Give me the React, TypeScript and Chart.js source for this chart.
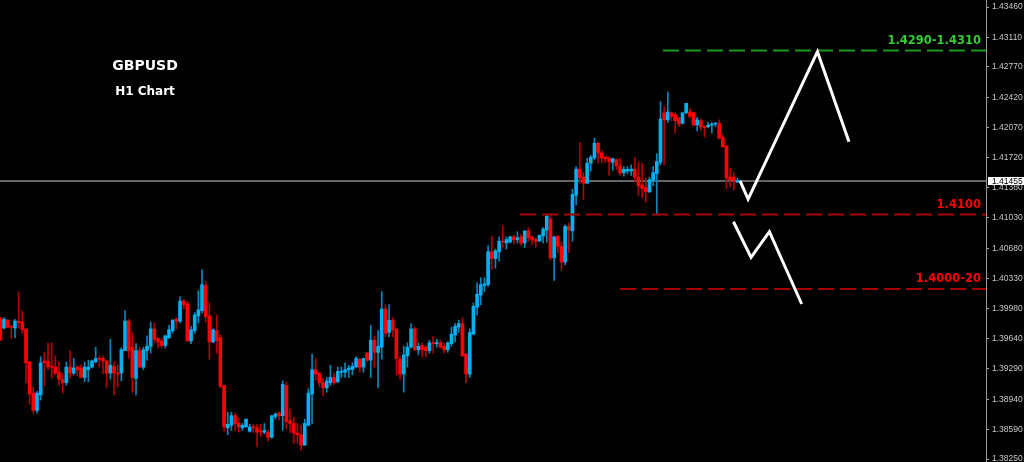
import React, { useEffect, useRef } from "react";
import { Chart, registerables } from "chart.js";

Chart.register(...registerables);

// ---- H1 candles (oldest -> newest) ----
const opens = [1.3988,1.3976,1.3985,1.3978,1.3976,1.3984,1.3983,1.3975,1.3937,1.3901,
1.3881,1.3899,1.3938,1.3938,1.3932,1.3931,1.3925,1.3917,1.3913,1.3931,
1.3924,1.3931,1.3930,1.3919,1.3928,1.3931,1.3937,1.3941,1.3941,1.3938,
1.3924,1.3932,1.3924,1.3924,1.3950,1.3984,1.3954,1.3918,1.3950,1.3931,
1.3950,1.3955,1.3975,1.3964,1.3961,1.3956,1.3965,1.3973,1.3986,1.3984,
1.4007,1.4004,1.3961,1.3973,1.3990,1.3996,1.4025,1.3990,1.3960,1.3973,
1.3965,1.3910,1.3861,1.3864,1.3875,1.3866,1.3861,1.3862,1.3857,1.3862,
1.3861,1.3857,1.3856,1.3856,1.3850,1.3874,1.3878,1.3875,1.3910,1.3869,
1.3866,1.3855,1.3853,1.3841,1.3864,1.3900,1.3928,1.3924,1.3913,1.3907,
1.3913,1.3919,1.3914,1.3925,1.3925,1.3928,1.3928,1.3931,1.3940,1.3931,
1.3947,1.3939,1.3962,1.3948,1.3954,1.3998,1.3971,1.3985,1.3975,1.3940,
1.3923,1.3944,1.3954,1.3975,1.3951,1.3956,1.3954,1.3950,1.3959,1.3958,
1.3959,1.3955,1.3951,1.3958,1.3968,1.3977,1.3981,1.3946,1.3923,1.3969,
1.4000,1.4014,1.4025,1.4026,1.4064,1.4056,1.4064,1.4076,1.4074,1.4075,
1.4081,1.4078,1.4081,1.4074,1.4088,1.4081,1.4078,1.4076,1.4082,1.4089,
1.4102,1.4057,1.4082,1.4070,1.4052,1.4093,1.4088,1.4129,1.4159,1.4150,
1.4143,1.4166,1.4172,1.4189,1.4178,1.4173,1.4172,1.4167,1.4170,1.4163,
1.4155,1.4157,1.4157,1.4159,1.4150,1.4141,1.4138,1.4133,1.4146,1.4154,
1.4167,1.4224,1.4216,1.4224,1.4222,1.4218,1.4212,1.4224,1.4225,1.4224,
1.4210,1.4215,1.4208,1.4208,1.4210,1.4211,1.4212,1.4196,1.4186,1.4150,
1.4150,1.4144];

const highs = [1.3988,1.3988,1.3986,1.3979,1.3986,1.4018,1.3996,1.3975,1.3937,1.3908,
1.3903,1.3943,1.3948,1.3959,1.3959,1.3944,1.3937,1.3924,1.3937,1.3950,
1.3941,1.3933,1.3934,1.3937,1.3939,1.3939,1.3954,1.3944,1.3944,1.3939,
1.3963,1.3937,1.3934,1.3953,1.3996,1.3986,1.3971,1.3958,1.3954,1.3954,
1.3967,1.3983,1.3982,1.3965,1.3964,1.3968,1.3979,1.3986,1.3988,1.4012,
1.4009,1.4007,1.3978,1.3994,1.4019,1.4043,1.4030,1.4005,1.3975,1.3991,
1.3968,1.3910,1.3879,1.3879,1.3878,1.3872,1.3866,1.3871,1.3865,1.3865,
1.3865,1.3865,1.3866,1.3858,1.3875,1.3878,1.3879,1.3915,1.3914,1.3883,
1.3873,1.3866,1.3864,1.3871,1.3906,1.3946,1.3941,1.3925,1.3918,1.3919,
1.3933,1.3924,1.3931,1.3931,1.3936,1.3933,1.3936,1.3943,1.3941,1.3941,
1.3948,1.3979,1.3967,1.3973,1.4018,1.4003,1.4003,1.3988,1.3975,1.3943,
1.3955,1.3959,1.3981,1.3977,1.3959,1.3959,1.3956,1.3962,1.3966,1.3963,
1.3962,1.3959,1.3960,1.3977,1.3981,1.3985,1.3988,1.3947,1.3975,1.4005,
1.4028,1.4034,1.4034,1.4071,1.4082,1.4067,1.4081,1.4094,1.4081,1.4082,
1.4083,1.4087,1.4084,1.4088,1.4092,1.4082,1.4080,1.4083,1.4092,1.4106,
1.4106,1.4082,1.4082,1.4075,1.4095,1.4097,1.4136,1.4162,1.4190,1.4155,
1.4172,1.4175,1.4195,1.4190,1.4181,1.4174,1.4173,1.4172,1.4171,1.4172,
1.4162,1.4162,1.4164,1.4173,1.4167,1.4166,1.4149,1.4150,1.4162,1.4177,
1.4237,1.4231,1.4248,1.4225,1.4224,1.4219,1.4225,1.4235,1.4229,1.4225,
1.4219,1.4217,1.4209,1.4213,1.4213,1.4213,1.4216,1.4199,1.4186,1.4160,
1.4155,1.4149];

const lows = [1.3962,1.3975,1.3976,1.3964,1.3965,1.3976,1.3970,1.3913,1.3888,1.3877,
1.3878,1.3893,1.3909,1.3928,1.3918,1.3922,1.3910,1.3901,1.3910,1.3918,
1.3922,1.3921,1.3919,1.3914,1.3914,1.3930,1.3936,1.3931,1.3923,1.3907,
1.3917,1.3899,1.3908,1.3915,1.3950,1.3941,1.3902,1.3899,1.3931,1.3928,
1.3939,1.3947,1.3959,1.3953,1.3953,1.3953,1.3964,1.3970,1.3975,1.3982,
1.3998,1.3961,1.3958,1.3970,1.3982,1.3993,1.3983,1.3940,1.3959,1.3947,
1.3907,1.3857,1.3853,1.3858,1.3858,1.3856,1.3858,1.3862,1.3856,1.3855,
1.3839,1.3851,1.3854,1.3846,1.3849,1.3871,1.3870,1.3858,1.3860,1.3855,
1.3843,1.3843,1.3835,1.3841,1.3863,1.3866,1.3916,1.3908,1.3898,1.3902,
1.3910,1.3911,1.3913,1.3919,1.3919,1.3919,1.3922,1.3931,1.3925,1.3925,
1.3937,1.3919,1.3931,1.3907,1.3940,1.3966,1.3966,1.3966,1.3922,1.3917,
1.3902,1.3931,1.3953,1.3950,1.3945,1.3943,1.3943,1.3947,1.3947,1.3954,
1.3953,1.3947,1.3948,1.3955,1.3960,1.3971,1.3943,1.3913,1.3919,1.3968,
1.3991,1.4003,1.4018,1.4024,1.4044,1.4045,1.4053,1.4069,1.4067,1.4074,
1.4073,1.4074,1.4071,1.4069,1.4076,1.4072,1.4069,1.4076,1.4074,1.4075,
1.4054,1.4031,1.4063,1.4043,1.4049,1.4063,1.4076,1.4118,1.4143,1.4124,
1.4142,1.4157,1.4170,1.4166,1.4167,1.4167,1.4152,1.4158,1.4159,1.4152,
1.4151,1.4154,1.4152,1.4145,1.4129,1.4126,1.4121,1.4132,1.4140,1.4106,
1.4164,1.4164,1.4213,1.4215,1.4201,1.4208,1.4211,1.4223,1.4218,1.4209,
1.4203,1.4204,1.4196,1.4207,1.4201,1.4208,1.4194,1.4184,1.4137,1.4139,
1.4135,1.4144];

const closes = [1.3962,1.3986,1.3977,1.3977,1.3984,1.3982,1.3974,1.3936,1.3900,1.3881,
1.3901,1.3936,1.3936,1.3931,1.3931,1.3924,1.3917,1.3913,1.3931,1.3924,
1.3930,1.3928,1.3919,1.3931,1.3931,1.3938,1.3941,1.3940,1.3938,1.3924,
1.3933,1.3924,1.3923,1.3951,1.3984,1.3950,1.3919,1.3950,1.3931,1.3951,
1.3955,1.3975,1.3963,1.3960,1.3956,1.3967,1.3974,1.3985,1.3984,1.4007,
1.4003,1.3961,1.3974,1.3991,1.3997,1.4026,1.3989,1.3960,1.3974,1.3961,
1.3909,1.3862,1.3865,1.3875,1.3866,1.3862,1.3864,1.3871,1.3862,1.3861,
1.3856,1.3856,1.3858,1.3850,1.3875,1.3877,1.3875,1.3911,1.3868,1.3866,
1.3855,1.3853,1.3841,1.3866,1.3901,1.3928,1.3923,1.3913,1.3907,1.3915,
1.3919,1.3913,1.3926,1.3926,1.3928,1.3930,1.3932,1.3941,1.3931,1.3941,
1.3939,1.3962,1.3948,1.3955,1.3998,1.3970,1.3985,1.3974,1.3941,1.3923,
1.3945,1.3954,1.3975,1.3951,1.3955,1.3951,1.3950,1.3959,1.3958,1.3959,
1.3954,1.3951,1.3959,1.3969,1.3978,1.3981,1.3944,1.3923,1.3971,1.4001,
1.4015,1.4026,1.4027,1.4064,1.4056,1.4065,1.4076,1.4075,1.4078,1.4081,
1.4078,1.4080,1.4074,1.4088,1.4080,1.4078,1.4076,1.4083,1.4090,1.4105,
1.4057,1.4081,1.4070,1.4052,1.4093,1.4089,1.4130,1.4159,1.4149,1.4143,
1.4166,1.4173,1.4189,1.4178,1.4172,1.4171,1.4168,1.4171,1.4163,1.4155,
1.4159,1.4159,1.4159,1.4150,1.4140,1.4137,1.4133,1.4147,1.4155,1.4168,
1.4217,1.4216,1.4225,1.4220,1.4215,1.4211,1.4224,1.4235,1.4220,1.4210,
1.4216,1.4208,1.4207,1.4210,1.4211,1.4212,1.4195,1.4185,1.4149,1.4147,
1.4145,1.4146];

// ---- price axis ----
const yTickValues = [1.4346, 1.4311, 1.4277, 1.4242, 1.4207, 1.4172, 1.4138, 1.4103,
  1.4068, 1.4033, 1.3998, 1.3964, 1.3929, 1.3894, 1.3859, 1.3825];
const lastPrice = 1.41455;

// ---- annotations ----
const titleLines = ["GBPUSD", "H1 Chart"];
const levelLabels = ["1.4290-1.4310", "1.4100", "1.4000-20"];
const levelPrices = [1.4296, 1.4107, 1.4021];
const levelStarts = [180.7, 141.7, 169.0];
const upPathX = [201.7, 203.9, 222.8, 231.4];
const upPathY = [1.41455, 1.41247, 1.42945, 1.41908];
const downPathX = [199.9, 204.7, 209.7, 218.5];
const downPathY = [1.40985, 1.40575, 1.4087, 1.40037];

const X_MIN = -0.09;
const X_MAX = 268.76;
const Y_MIN = 1.38216;
const Y_MAX = 1.43541;

const UP_BODY = "#00b0f0";
const DOWN_BODY = "#ff0000";
const UP_WICK = "#0a86bd";
const DOWN_WICK = "#b40000";
const LEVEL_LINE_COLORS = ["#1f9a1f", "#a80000", "#a80000"];
const LEVEL_TEXT_COLORS = ["#33cc33", "#ff0000", "#ff0000"];

const bgPlugin = {
  id: "bg",
  beforeDraw(chart: any) {
    const { ctx, width, height } = chart;
    ctx.save();
    ctx.fillStyle = "#000";
    ctx.fillRect(0, 0, width, height);
    ctx.restore();
  },
};

const overlayPlugin = {
  id: "overlay",
  afterDraw(chart: any) {
    const { ctx, chartArea, scales, width } = chart;
    const ys = scales.y;
    ctx.save();
    // level labels
    ctx.font = 'bold 11.5px "DejaVu Sans"';
    ctx.textAlign = "right";
    ctx.textBaseline = "alphabetic";
    levelLabels.forEach((t, i) => {
      const py = ys.getPixelForValue(levelPrices[i]);
      ctx.fillStyle = LEVEL_TEXT_COLORS[i];
      ctx.fillText(t, chartArea.right - 5, py - 6.5);
    });
    // title
    ctx.fillStyle = "#ffffff";
    ctx.textAlign = "center";
    ctx.font = 'bold 14px "DejaVu Sans"';
    ctx.fillText(titleLines[0], chartArea.left + 145, 70);
    ctx.font = 'bold 12px "DejaVu Sans"';
    ctx.fillText(titleLines[1], chartArea.left + 145, 94.5);
    // current price box
    const py = ys.getPixelForValue(lastPrice);
    ctx.fillStyle = "#ffffff";
    ctx.fillRect(chartArea.right + 2, Math.round(py) - 4, width - chartArea.right - 2, 8);
    ctx.fillStyle = "#000000";
    ctx.textAlign = "left";
    ctx.textBaseline = "middle";
    ctx.font = '8.5px "Liberation Sans"';
    ctx.fillText(lastPrice.toFixed(5), chartArea.right + 6, Math.round(py) + 0.5);
    ctx.restore();
  },
};

export default function App() {
  const ref = useRef<HTMLCanvasElement>(null);
  useEffect(() => {
    document.body.style.margin = "0";
    document.body.style.background = "#000";
    const idx = opens.map((_, i) => i);
    const isUp = (i: number) => closes[i] >= opens[i];
    const line = (xs: number[], ys: number[]) => xs.map((x, i) => ({ x, y: ys[i] }));
    const datasets: any[] = [
      {
        type: "line",
        data: [{ x: X_MIN, y: lastPrice }, { x: X_MAX, y: lastPrice }],
        borderColor: "#60666b",
        borderWidth: 2,
        pointRadius: 0,
        order: 10,
      },
      {
        type: "bar",
        data: idx.map((i) => ({ x: i, y: [lows[i], highs[i]] })),
        backgroundColor: idx.map((i) => (isUp(i) ? UP_WICK : DOWN_WICK)),
        barThickness: 1,
        grouped: false,
        borderWidth: 0,
        order: 6,
      },
      {
        type: "bar",
        data: idx.map((i) => ({ x: i, y: [opens[i], closes[i]] })),
        backgroundColor: idx.map((i) => (isUp(i) ? UP_BODY : DOWN_BODY)),
        barThickness: 3,
        grouped: false,
        borderWidth: 0,
        minBarLength: 1,
        order: 5,
      },
      ...levelPrices.map((p, i) => ({
        type: "line",
        data: [{ x: levelStarts[i], y: p }, { x: X_MAX, y: p }],
        borderColor: LEVEL_LINE_COLORS[i],
        borderWidth: 2,
        borderDash: [16, 6],
        pointRadius: 0,
        order: 3,
      })),
      {
        type: "line",
        data: line(upPathX, upPathY),
        borderColor: "#ffffff",
        borderWidth: 3,
        borderJoinStyle: "miter",
        pointRadius: 0,
        tension: 0,
        order: 1,
      },
      {
        type: "line",
        data: line(downPathX, downPathY),
        borderColor: "#ffffff",
        borderWidth: 3,
        borderJoinStyle: "miter",
        pointRadius: 0,
        tension: 0,
        order: 1,
      },
    ];
    const chart = new Chart(ref.current as HTMLCanvasElement, {
      type: "line",
      data: { datasets },
      options: {
        animation: false,
        responsive: false,
        events: [],
        layout: { padding: 0 },
        plugins: { legend: { display: false }, tooltip: { enabled: false }, title: { display: false } },
        scales: {
          x: {
            type: "linear",
            display: false,
            min: X_MIN,
            max: X_MAX,
            offset: false,
            grid: { offset: false },
          },
          y: {
            type: "linear",
            position: "right",
            min: Y_MIN,
            max: Y_MAX,
            afterBuildTicks: (s: any) => {
              s.ticks = yTickValues.map((v) => ({ value: v }));
            },
            afterFit: (s: any) => {
              s.width = 38;
              s.paddingTop = 0;
              s.paddingBottom = 0;
            },
            ticks: {
              autoSkip: false,
              color: "#c8c8c8",
              padding: 3,
              font: { family: '"Liberation Sans", Arial', size: 8.5 },
              callback: (v: any) => Number(v).toFixed(5),
            },
            grid: { drawOnChartArea: false, drawTicks: true, tickLength: 3, color: "#a8a8a8" },
            border: { display: true, color: "#9a9a9a", width: 1 },
          },
        },
      } as any,
      plugins: [bgPlugin, overlayPlugin],
    });
    return () => chart.destroy();
  }, []);
  return (
    <div style={{ position: "fixed", left: 0, top: 0, width: 1024, height: 462, background: "#000" }}>
      <canvas ref={ref} width={1024} height={462} style={{ display: "block" }} />
    </div>
  );
}
